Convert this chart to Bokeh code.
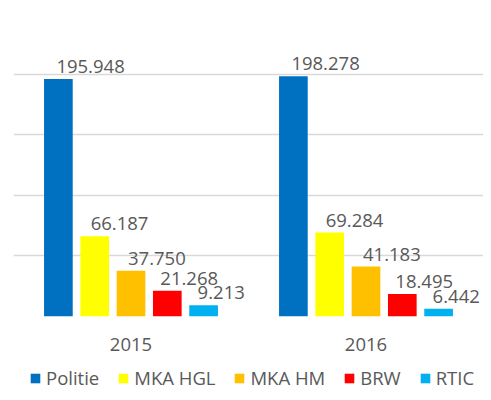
from bokeh.plotting import figure
from bokeh.models import ColumnDataSource, Range1d, FixedTicker, Legend, LegendItem
from bokeh.layouts import column
from bokeh.transform import dodge
from bokeh.embed import file_html
from bokeh.resources import INLINE
from bokeh.core.properties import value

years = ["2015", "2016"]
series = ["Politie", "MKA HGL", "MKA HM", "BRW", "RTIC"]
politie = [195948, 198278]
mka_hgl = [66187, 69284]
mka_hm = [37750, 41183]
brw = [21268, 18495]
rtic = [9213, 6442]
colors = ["#0070C0", "#FFFF00", "#FFC000", "#FF0000", "#00B0F0"]
y_ticks = [0, 50000, 100000, 150000, 200000, 250000]

FONT = "Open Sans"
TXT = "#595959"
W = 483

centers = [i + 0.5 for i in range(len(years))]

p = figure(width=W, height=360, output_backend="svg", toolbar_location=None,
           x_range=Range1d(0, len(years)), y_range=Range1d(0, 250000),
           min_border_left=13, min_border_right=0, min_border_top=13,
           min_border_bottom=44)
p.outline_line_color = None

p.yaxis.visible = False
p.ygrid.ticker = FixedTicker(ticks=y_ticks)
p.ygrid.grid_line_color = "#D9D9D9"
p.ygrid.grid_line_width = 1.3
p.xgrid.visible = False

p.xaxis.ticker = FixedTicker(ticks=centers)
p.xaxis.major_label_overrides = {c: y for c, y in zip(centers, years)}
p.xaxis.axis_line_color = None
p.xaxis.major_tick_line_color = None
p.xaxis.minor_tick_line_color = None
p.xaxis.major_label_text_font = FONT
p.xaxis.major_label_text_font_size = "18.5px"
p.xaxis.major_label_text_color = TXT
p.xaxis.major_label_standoff = 15

values = [politie, mka_hgl, mka_hm, brw, rtic]
label_shift = [-2, -4, -3, -7, -6]
step = 0.1545
width = 0.122

lp = figure(width=W, height=32, output_backend="svg", toolbar_location=None,
            x_range=Range1d(0, 1), y_range=Range1d(0, 1), min_border=0)
lp.axis.visible = False
lp.grid.visible = False
lp.outline_line_color = None

items = []
for i, (name, vals, col) in enumerate(zip(series, values, colors)):
    off = (i - 2) * step
    src = ColumnDataSource(dict(xc=centers, v=vals,
                                lab=[f"{v:,}".replace(",", ".") for v in vals]))
    p.vbar(x=dodge("xc", off), top="v", width=width,
           source=src, fill_color=col, line_color=None)
    p.text(x=dodge("xc", off), y="v", text="lab", source=src,
           text_align="left", text_baseline="bottom", x_offset=label_shift[i],
           y_offset=-6, text_font=value(FONT), text_font_size="18.5px",
           text_color=TXT)
    # zero-height stand-in so the legend swatch has a fill to draw
    dummy = lp.vbar(x=[0.5], top=[0], bottom=[0], width=0.0, fill_color=col,
                    line_color=None)
    items.append(LegendItem(label=name, renderers=[dummy]))

legend = Legend(items=items, orientation="horizontal", location=(16, 2),
                glyph_width=12, glyph_height=12, label_standoff=5, spacing=18,
                padding=0, margin=0, border_line_color=None,
                label_text_font=FONT, label_text_font_size="18.5px",
                label_text_color=TXT, background_fill_alpha=0)
lp.add_layout(legend, "center")

layout = column(p, lp, spacing=0)
open("out.html", "w").write(file_html(layout, INLINE))
